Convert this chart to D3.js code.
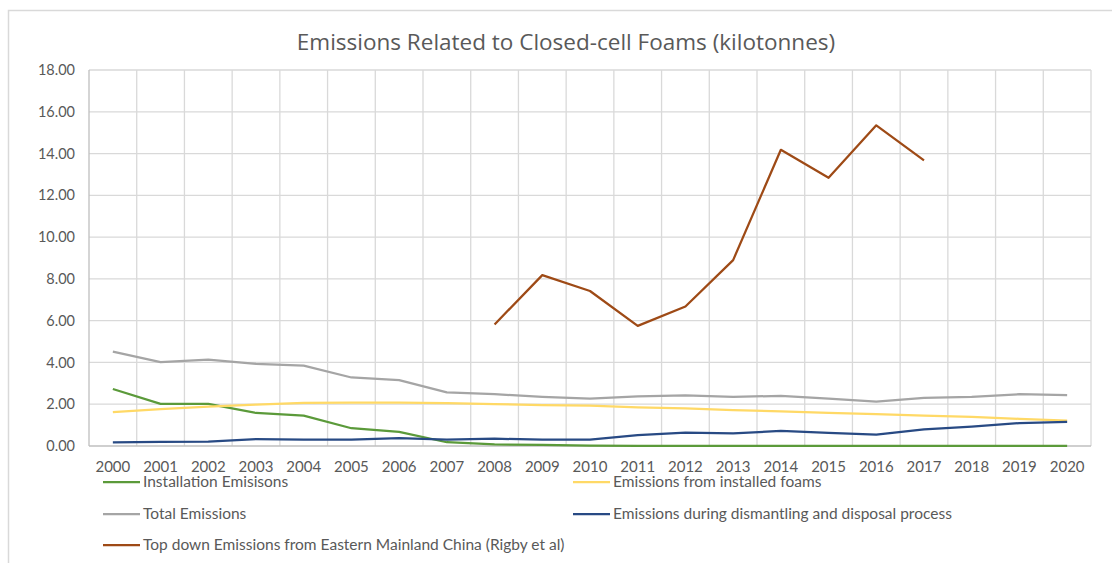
<!DOCTYPE html>
<html>
<head>
<meta charset="utf-8">
<script src="https://cdn.jsdelivr.net/npm/d3@7"></script>
<style>
  html, body { margin: 0; padding: 0; background: #ffffff; }
  svg { display: block; }
  text { font-family: Lato, "Open Sans", "Liberation Sans", sans-serif; fill: #595959; }
</style>
</head>
<body>
<svg id="chart" width="1112" height="563"></svg>
<script>
const years = ["2000","2001","2002","2003","2004","2005","2006","2007","2008","2009","2010",
               "2011","2012","2013","2014","2015","2016","2017","2018","2019","2020"];
const installationEmissions = [2.73,2.02,2.02,1.58,1.45,0.85,0.68,0.18,0.08,0.05,0.02,
                               0.01,0.01,0.01,0.01,0.01,0.01,0.01,0.01,0.01,0.01];
const installedFoamEmissions = [1.62,1.76,1.88,1.98,2.07,2.08,2.08,2.05,2.00,1.96,1.93,
                                1.85,1.80,1.72,1.66,1.58,1.53,1.45,1.40,1.30,1.22];
const totalEmissions = [4.52,4.02,4.13,3.93,3.85,3.28,3.15,2.57,2.48,2.35,2.27,
                        2.38,2.42,2.35,2.40,2.27,2.13,2.30,2.35,2.48,2.43];
const disposalEmissions = [0.17,0.20,0.21,0.33,0.30,0.30,0.38,0.30,0.35,0.30,0.30,
                           0.52,0.64,0.60,0.72,0.63,0.55,0.80,0.93,1.10,1.15];
const topDownEmissions = [null,null,null,null,null,null,null,null,5.82,8.18,7.42,
                          5.75,6.68,8.90,14.18,12.84,15.35,13.67,null,null,null];
const yTicks = [0,2,4,6,8,10,12,14,16,18];
const titleText = "Emissions Related to Closed-cell Foams (kilotonnes)";

const series = [
  {name: "Installation Emisisons", values: installationEmissions, color: "#5b9a3a"},
  {name: "Emissions from installed foams", values: installedFoamEmissions, color: "#ffd966"},
  {name: "Total Emissions", values: totalEmissions, color: "#a5a5a5"},
  {name: "Emissions during dismantling and disposal process", values: disposalEmissions, color: "#284a84"},
  {name: "Top down Emissions from Eastern Mainland China (Rigby et al)", values: topDownEmissions, color: "#9e4a16"}
];

const svg = d3.select("#chart");
const pLeft = 89, pRight = 1091, pTop = 70, pBottom = 446;

// outer chart border
svg.append("rect").attr("x", 8.5).attr("y", 10.5).attr("width", 1120).attr("height", 570)
  .attr("fill", "#fff").attr("stroke", "#d9d9d9").attr("stroke-width", 1.5);

const x = d3.scaleBand().domain(years).range([pLeft, pRight]);
const xc = d => x(d) + x.bandwidth() / 2;
const y = d3.scaleLinear().domain([0, 18]).range([pBottom, pTop]);

// horizontal gridlines
svg.append("g").selectAll("line").data(yTicks.filter(t => t > 0)).join("line")
  .attr("x1", pLeft).attr("x2", pRight).attr("y1", d => y(d)).attr("y2", d => y(d))
  .attr("stroke", "#d9d9d9").attr("stroke-width", 1.3);
// vertical gridlines at category boundaries
const bounds = years.map(d => x(d)).concat([pRight]);
svg.append("g").selectAll("line").data(bounds.slice(1)).join("line")
  .attr("x1", d => d).attr("x2", d => d).attr("y1", pTop).attr("y2", pBottom)
  .attr("stroke", "#d9d9d9").attr("stroke-width", 1.3);

// axes lines
svg.append("line").attr("x1", pLeft).attr("x2", pLeft).attr("y1", pTop).attr("y2", pBottom)
  .attr("stroke", "#bfbfbf").attr("stroke-width", 1.3);
svg.append("line").attr("x1", pLeft).attr("x2", pRight).attr("y1", pBottom).attr("y2", pBottom)
  .attr("stroke", "#bfbfbf").attr("stroke-width", 1.3);

// y axis labels
const yAxis = d3.axisLeft(y).tickValues(yTicks).tickFormat(d3.format(".2f")).tickSize(0).tickPadding(14);
const yg = svg.append("g").attr("transform", `translate(${pLeft},0)`).call(yAxis);
yg.select(".domain").remove();
yg.selectAll("text").style("font-size", "14.5px").style("fill", "#595959")
  .style("font-family", "Lato, 'Open Sans', sans-serif");

// x axis labels
const xAxis = d3.axisBottom(x).tickSize(0).tickPadding(15);
const xg = svg.append("g").attr("transform", `translate(0,${pBottom})`).call(xAxis);
xg.select(".domain").remove();
xg.selectAll("text").style("font-size", "15px").style("fill", "#595959")
  .style("font-family", "Lato, 'Open Sans', sans-serif");

// lines
const lineGen = d3.line().defined(d => d.v != null).x(d => xc(d.year)).y(d => y(d.v));
series.forEach(s => {
  const pts = years.map((yr, i) => ({year: yr, v: s.values[i]}));
  svg.append("path").datum(pts).attr("d", lineGen)
    .attr("fill", "none").attr("stroke", s.color).attr("stroke-width", 2.25)
    .attr("stroke-linejoin", "round");
});

// title
svg.append("text").attr("x", 566).attr("y", 50).attr("text-anchor", "middle")
  .style("font-family", "'Open Sans', Lato, sans-serif")
  .style("font-size", "22.5px").style("fill", "#595959").text(titleText);

// legend
const legendPos = [
  {x: 103, y: 482}, {x: 573, y: 482},
  {x: 103, y: 514}, {x: 573, y: 514},
  {x: 103, y: 545}
];
series.forEach((s, i) => {
  const p = legendPos[i];
  const g = svg.append("g").attr("transform", `translate(${p.x},${p.y})`);
  g.append("line").attr("x1", 0).attr("x2", 37).attr("y1", 0).attr("y2", 0)
    .attr("stroke", s.color).attr("stroke-width", 2.25);
  g.append("text").attr("x", 40).attr("y", 0).attr("dy", "0.35em")
    .style("font-size", "15.5px").text(s.name);
});
</script>
</body>
</html>
